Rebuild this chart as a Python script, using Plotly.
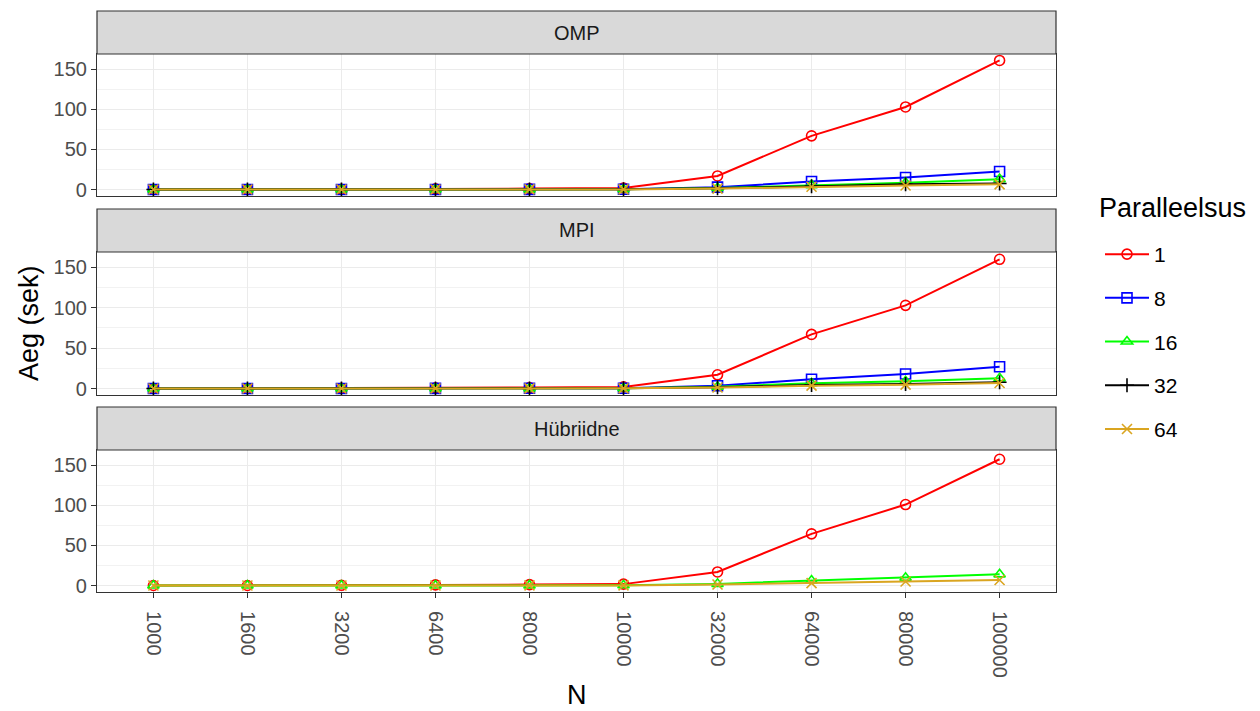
import plotly.graph_objects as go

# Problem size (categorical x axis)
n_labels = ["1000", "1600", "3200", "6400", "8000", "10000", "32000", "64000", "80000", "100000"]

# Execution time (seconds) per implementation and degree of parallelism
omp_1 = [0.05, 0.1, 0.3, 0.8, 1.2, 2.0, 17.0, 67.0, 103.0, 161.0]
omp_8 = [0.02, 0.03, 0.06, 0.15, 0.25, 0.35, 3.0, 10.0, 15.0, 22.5]
omp_16 = [0.02, 0.03, 0.05, 0.12, 0.2, 0.3, 2.0, 5.5, 8.5, 13.0]
omp_32 = [0.02, 0.03, 0.05, 0.1, 0.15, 0.25, 1.5, 4.0, 6.5, 7.5]
omp_64 = [0.02, 0.03, 0.05, 0.1, 0.15, 0.2, 1.2, 3.5, 5.0, 6.5]

mpi_1 = [0.05, 0.1, 0.3, 0.8, 1.2, 2.0, 17.0, 67.0, 103.0, 160.0]
mpi_8 = [0.02, 0.03, 0.06, 0.15, 0.25, 0.4, 3.4, 11.5, 18.0, 27.0]
mpi_16 = [0.02, 0.03, 0.05, 0.12, 0.2, 0.3, 2.2, 6.5, 9.0, 12.6]
mpi_32 = [0.02, 0.03, 0.05, 0.1, 0.15, 0.25, 1.5, 4.5, 5.5, 7.8]
mpi_64 = [0.02, 0.03, 0.05, 0.1, 0.15, 0.2, 1.2, 3.5, 4.8, 6.8]

hyb_1 = [0.05, 0.1, 0.3, 0.8, 1.2, 1.8, 17.0, 64.5, 101.0, 157.5]
hyb_16 = [0.02, 0.03, 0.05, 0.12, 0.2, 0.3, 2.1, 6.3, 9.7, 14.0]
hyb_64 = [0.02, 0.03, 0.05, 0.1, 0.15, 0.2, 1.3, 3.0, 5.0, 7.0]

panel_names = ["OMP", "MPI", "Hübriidne"]
panel_data = [
    {"1": omp_1, "8": omp_8, "16": omp_16, "32": omp_32, "64": omp_64},
    {"1": mpi_1, "8": mpi_8, "16": mpi_16, "32": mpi_32, "64": mpi_64},
    {"1": hyb_1, "16": hyb_16, "64": hyb_64},
]

series_names = ["1", "8", "16", "32", "64"]
series_colors = {"1": "#FF0000", "8": "#0000FF", "16": "#00FF00", "32": "#000000", "64": "#DAA520"}
series_symbols = {"1": "circle-open", "8": "square-open", "16": "triangle-up-open",
                  "32": "cross-thin-open", "64": "x-thin-open"}

FONT = "Liberation Sans, Arial, sans-serif"
TICK_SIZE = 20
TITLE_SIZE = 27

# Figure geometry in pixels
W, H = 1260, 711
ML, MR, MT, MB = 97, 204, 11, 119
PW = W - ML - MR
PH = H - MT - MB

def py(px):
    """Convert a pixel row to paper y coordinate."""
    return (H - MB - px) / PH

def px_x(px):
    """Convert a pixel column to paper x coordinate."""
    return (px - ML) / PW

panels_px = [(54, 196), (252, 395), (450, 592)]
strips_px = [(11, 54), (209, 252), (407, 450)]

fig = go.Figure()

for i, (pname, pdata) in enumerate(zip(panel_names, panel_data)):
    ax = "" if i == 0 else str(i + 1)
    for s in series_names:
        if s not in pdata:
            continue
        fig.add_trace(go.Scatter(
            x=n_labels, y=pdata[s],
            xaxis="x" + ax, yaxis="y" + ax,
            mode="lines+markers",
            name=s, legendgroup=s, showlegend=(i == 0),
            line=dict(color=series_colors[s], width=2),
            marker=dict(symbol=series_symbols[s], size=10, color=series_colors[s],
                        line=dict(width=1.6, color=series_colors[s])),
        ))

all_vals = [v for d in panel_data for arr in d.values() for v in arr]
vmin, vmax = min(all_vals), max(all_vals)
pad = 0.05 * (vmax - vmin)
yrange = [vmin - pad, vmax + pad]

layout = dict(
    width=W, height=H,
    margin=dict(l=ML, r=MR, t=MT, b=MB),
    plot_bgcolor="white", paper_bgcolor="white",
    font=dict(family=FONT, size=TICK_SIZE, color="#4D4D4D"),
    showlegend=True,
    legend=dict(
        font=dict(size=21, color="#000000"),
        x=px_x(1100), xanchor="left", y=py(234), yanchor="top",
        tracegroupgap=13.4, itemwidth=44, bgcolor="rgba(0,0,0,0)",
    ),
)

shapes = []
annotations = []
for i in range(3):
    ax = "" if i == 0 else str(i + 1)
    top, bot = panels_px[i]
    layout["xaxis" + ax] = dict(
        domain=[0, 1], anchor="y" + ax,
        type="category", categoryorder="array", categoryarray=n_labels,
        range=[-0.6, len(n_labels) - 0.4],
        showgrid=True, gridcolor="#EBEBEB", gridwidth=1.1,
        showline=True, mirror=True, linecolor="#333333", linewidth=1.2,
        ticks="outside" if i == 2 else "", ticklen=5, tickcolor="#333333", tickwidth=1.1,
        showticklabels=(i == 2), tickangle=90, ticklabelstandoff=9,
        tickfont=dict(size=TICK_SIZE, color="#4D4D4D"),
        zeroline=False,
    )
    layout["yaxis" + ax] = dict(
        domain=[py(bot), py(top)], anchor="x" + ax,
        range=yrange, tickvals=[0, 50, 100, 150],
        showgrid=True, gridcolor="#EBEBEB", gridwidth=1.1,
        minor=dict(tickvals=[25, 75, 125], showgrid=True, gridcolor="#F2F2F2", gridwidth=0.6, ticks=""),
        showline=True, mirror=True, linecolor="#333333", linewidth=1.2,
        ticks="outside", ticklen=5, tickcolor="#333333", tickwidth=1.1,
        tickfont=dict(size=TICK_SIZE, color="#4D4D4D"),
        zeroline=False,
    )
    st, sb = strips_px[i]
    shapes.append(dict(type="rect", xref="paper", yref="paper",
                       x0=0, x1=1, y0=py(sb), y1=py(st),
                       fillcolor="#D9D9D9", line=dict(color="#333333", width=1.2), layer="above"))
    annotations.append(dict(text=panel_names[i], xref="paper", yref="paper",
                            x=0.5, y=(py(sb) + py(st)) / 2, xanchor="center", yanchor="middle",
                            showarrow=False, font=dict(size=TICK_SIZE, color="#1A1A1A")))

# Axis titles and legend heading
annotations.append(dict(text="Aeg (sek)", xref="paper", yref="paper", x=0, y=py(323),
                        xanchor="center", yanchor="middle", xshift=-(ML - 29), textangle=-90,
                        showarrow=False, font=dict(size=TITLE_SIZE, color="#000000")))
annotations.append(dict(text="N", xref="paper", yref="paper", x=0.5, y=0,
                        xanchor="center", yanchor="middle", yshift=-(695 - (H - MB)),
                        showarrow=False, font=dict(size=TITLE_SIZE, color="#000000")))
annotations.append(dict(text="Paralleelsus", xref="paper", yref="paper", x=px_x(1097), y=py(208),
                        xanchor="left", yanchor="middle",
                        showarrow=False, font=dict(size=TITLE_SIZE, color="#000000")))

layout["shapes"] = shapes
layout["annotations"] = annotations
fig.update_layout(**layout)

fig.write_html("out.html")
